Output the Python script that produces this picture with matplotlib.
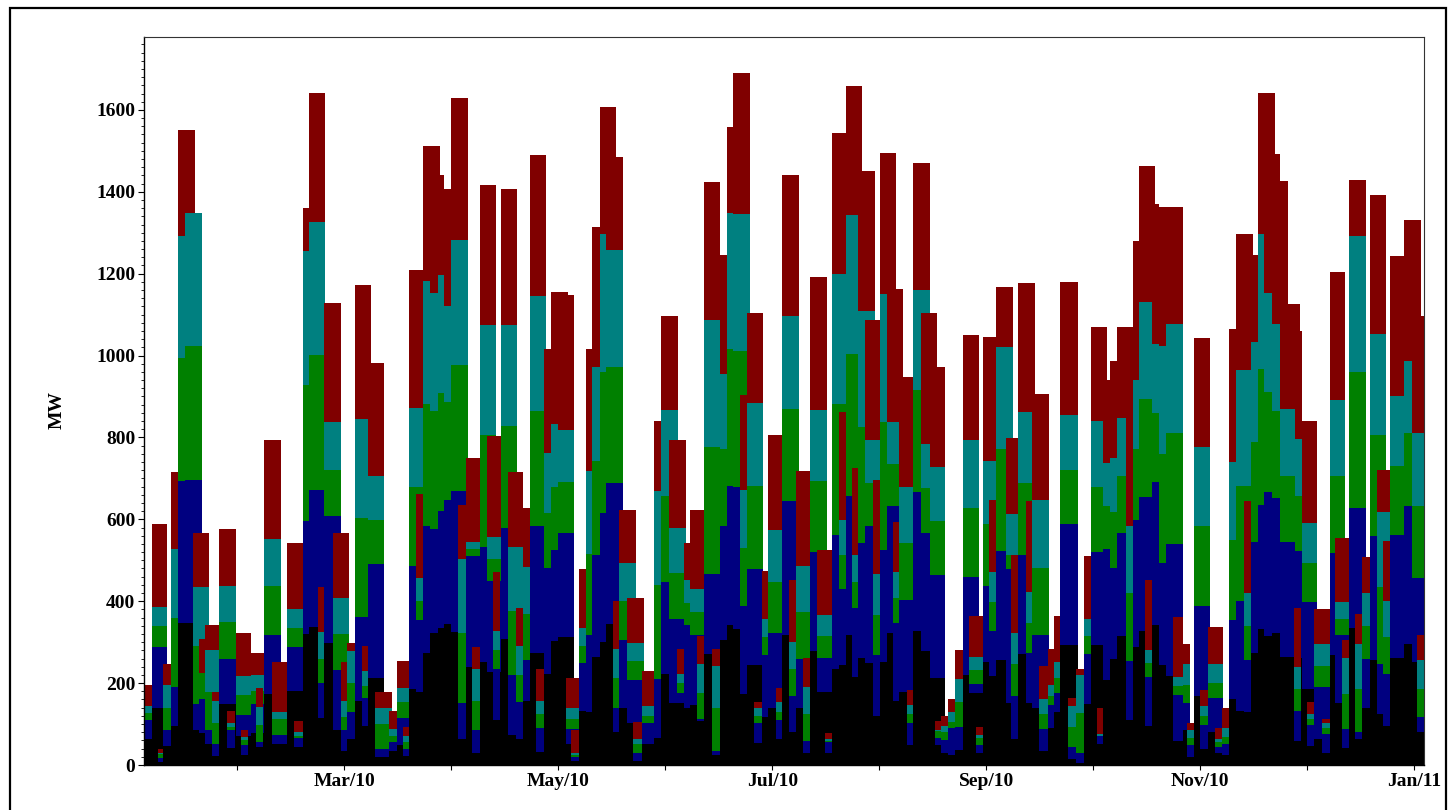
import numpy as np
import matplotlib
matplotlib.use("Agg")
import matplotlib.pyplot as plt
from matplotlib.patches import Rectangle
from matplotlib.ticker import MultipleLocator

# Each bar covers a period (days since 6 Jan 2010); bars are drawn in list order
# and later bars overlap earlier ones. Values are cumulative MW tops per layer.
period_start = [
    0.0, 2.1, 4.0, 5.4, 7.5, 9.6, 11.5, 13.9, 15.6, 17.2,
    19.1, 21.2, 23.4, 25.9, 27.4, 30.2, 31.6, 34.1, 36.2, 40.4,
    42.6, 44.9, 46.8, 49.2, 51.1, 53.5, 55.8, 57.4, 59.8, 61.7,
    63.4, 65.5, 69.5, 71.6, 73.5, 75.2, 77.0, 79.2, 81.1, 83.4,
    85.0, 87.0, 88.9, 91.2, 92.9, 95.3, 97.2, 99.0, 101.1, 103.3,
    105.4, 107.5, 109.3, 111.2, 113.5, 115.4, 117.5, 119.6, 121.1, 123.4,
    125.3, 127.1, 129.3, 131.0, 132.9, 134.8, 136.9, 138.8, 141.1, 144.6,
    146.6, 148.9, 151.1, 153.0, 154.9, 156.8, 158.8, 161.0, 163.4, 165.3,
    167.1, 169.0, 170.9, 173.1, 175.4, 177.1, 179.2, 181.0, 182.9, 184.9,
    187.0, 188.9, 190.8, 193.0, 195.1, 197.1, 199.0, 200.7, 202.6, 204.5,
    206.7, 208.8, 210.8, 212.4, 214.2, 216.3, 218.0, 220.3, 222.8, 224.4,
    226.1, 228.0, 230.1, 232.2, 234.1, 236.0, 237.9, 239.8, 241.7, 244.4,
    245.9, 247.8, 250.1, 252.0, 254.0, 256.4, 258.1, 259.9, 262.2, 264.4,
    266.5, 268.7, 270.3, 272.1, 274.0, 276.1, 278.6, 280.5, 282.1, 284.0,
    285.9, 288.0, 290.0, 292.0, 294.6, 295.8, 297.7, 299.6, 301.9, 303.8,
    305.7, 307.8, 309.8, 312.1, 314.1, 316.0, 317.8, 319.9, 322.1, 326.5,
    326.2, 328.6, 329.8, 331.9, 334.1, 336.3, 337.9, 339.8, 341.9, 343.6,
    345.5, 347.8, 349.7, 351.6, 353.5, 357.5, 359.6, 361.1,
]
period_end = [
    2.1, 6.4, 5.4, 7.5, 9.6, 14.4, 16.5, 18.4, 17.2, 21.2,
    21.2, 25.9, 25.7, 30.2, 29.5, 34.4, 33.8, 38.7, 40.4, 44.9,
    44.9, 46.8, 51.3, 51.3, 55.8, 58.2, 57.9, 59.8, 64.2, 63.6,
    68.0, 70.2, 71.6, 75.2, 75.2, 79.2, 79.2, 81.1, 83.9, 85.0,
    87.0, 91.8, 91.8, 95.3, 95.3, 99.7, 101.1, 100.9, 105.8, 107.5,
    107.5, 109.4, 114.0, 113.5, 115.6, 120.1, 122.0, 123.4, 123.4, 125.4,
    129.8, 129.5, 133.9, 135.8, 134.8, 139.6, 141.8, 141.1, 144.6, 146.8,
    151.4, 153.6, 153.2, 155.1, 158.8, 158.8, 163.4, 163.4, 165.3, 167.1,
    171.9, 170.9, 175.6, 175.4, 177.3, 181.3, 181.3, 185.8, 185.1, 188.9,
    188.9, 193.6, 195.1, 195.1, 199.0, 199.0, 203.6, 202.6, 207.4, 208.8,
    209.0, 213.3, 215.4, 214.4, 218.2, 218.2, 222.8, 224.8, 227.2, 227.2,
    228.2, 230.1, 232.2, 236.7, 238.1, 237.9, 242.3, 241.7, 246.4, 247.8,
    247.8, 252.6, 252.0, 256.7, 256.5, 258.4, 260.2, 264.8, 264.4, 266.5,
    268.7, 273.1, 272.1, 274.2, 276.1, 278.6, 280.5, 282.1, 286.8, 285.9,
    288.0, 290.0, 294.6, 294.6, 296.7, 297.7, 302.4, 301.9, 306.2, 305.7,
    307.8, 310.0, 314.5, 314.1, 316.0, 320.7, 322.3, 324.6, 327.9, 328.6,
    328.1, 332.8, 331.9, 336.3, 336.3, 340.7, 341.9, 341.9, 346.6, 345.6,
    347.8, 352.3, 353.5, 353.5, 357.8, 362.2, 363.7, 363.7,
]
top_black = [
    63, 138, 8, 47, 95, 347, 347, 85, 78, 52,
    22, 150, 41, 70, 25, 78, 45, 174, 52, 181,
    45, 320, 337, 115, 297, 86, 35, 63, 157, 96,
    212, 20, 33, 48, 22, 185, 179, 273, 323, 334,
    345, 326, 63, 240, 30, 251, 227, 110, 307, 74,
    63, 157, 273, 32, 223, 302, 312, 52, 10, 132,
    129, 264, 301, 345, 80, 138, 102, 10, 52, 66,
    223, 151, 151, 140, 146, 108, 270, 25, 306, 342,
    331, 174, 245, 53, 118, 140, 63, 317, 80, 138,
    30, 279, 179, 30, 234, 245, 317, 216, 262, 249,
    120, 251, 323, 157, 179, 48, 328, 279, 212, 48,
    30, 25, 36, 221, 176, 30, 251, 218, 256, 151,
    63, 271, 151, 140, 35, 91, 129, 292, 15, 5,
    149, 292, 52, 207, 260, 315, 109, 288, 328, 96,
    342, 245, 218, 58, 85, 20, 168, 38, 80, 30,
    25, 160, 131, 129, 273, 331, 315, 323, 264, 262,
    58, 185, 46, 63, 30, 268, 151, 41, 334, 63,
    140, 257, 124, 96, 262, 295, 251, 80,
]
top_navy = [
    110, 287, 18, 85, 190, 693, 695, 148, 160, 85,
    52, 260, 85, 122, 50, 148, 57, 317, 74, 287,
    65, 596, 671, 201, 607, 232, 85, 129, 362, 163,
    491, 40, 55, 115, 40, 487, 354, 583, 577, 620,
    646, 669, 152, 511, 85, 533, 450, 234, 579, 220,
    154, 256, 583, 91, 481, 524, 566, 87, 20, 249,
    317, 514, 616, 688, 140, 306, 207, 30, 102, 209,
    448, 356, 177, 342, 317, 113, 467, 35, 583, 682,
    680, 389, 478, 103, 268, 323, 110, 644, 168, 260,
    58, 519, 262, 55, 561, 430, 658, 384, 541, 583,
    268, 524, 633, 347, 404, 102, 666, 566, 465, 67,
    60, 91, 94, 459, 198, 48, 436, 328, 522, 478,
    168, 513, 273, 317, 87, 146, 176, 588, 44, 30,
    271, 519, 72, 528, 481, 566, 253, 599, 655, 216,
    691, 494, 539, 171, 151, 48, 389, 98, 163, 45,
    52, 353, 400, 256, 544, 636, 666, 651, 544, 522,
    132, 397, 98, 190, 76, 517, 317, 87, 627, 80,
    260, 559, 246, 223, 561, 633, 456, 118,
]
top_green = [
    127, 339, 28, 139, 358, 994, 1023, 290, 224, 179,
    102, 349, 94, 170, 60, 180, 97, 436, 113, 334,
    72, 928, 1001, 260, 721, 321, 118, 201, 603, 193,
    599, 100, 72, 154, 55, 679, 400, 881, 865, 909,
    887, 978, 323, 527, 157, 806, 502, 281, 828, 375,
    220, 370, 865, 124, 616, 679, 690, 113, 25, 290,
    516, 743, 959, 972, 212, 400, 253, 52, 120, 439,
    657, 469, 201, 395, 373, 176, 776, 140, 771, 1016,
    1012, 530, 682, 120, 312, 448, 130, 870, 234, 373,
    124, 693, 315, 58, 881, 514, 1003, 448, 826, 688,
    367, 837, 734, 408, 541, 124, 915, 677, 596, 82,
    80, 105, 154, 627, 231, 65, 588, 398, 771, 514,
    246, 688, 347, 481, 124, 168, 212, 721, 94, 127,
    315, 679, 72, 633, 618, 707, 419, 771, 895, 248,
    859, 760, 810, 194, 196, 67, 583, 120, 201, 55,
    69, 550, 682, 339, 790, 968, 911, 865, 707, 658,
    185, 494, 112, 242, 90, 705, 356, 174, 959, 185,
    339, 806, 434, 312, 730, 810, 633, 185,
]
top_teal = [
    144, 387, 30, 195, 528, 1293, 1348, 435, 224, 280,
    157, 437, 102, 217, 68, 220, 142, 553, 129, 380,
    80, 1255, 1326, 325, 837, 409, 157, 279, 845, 229,
    707, 140, 88, 188, 70, 873, 456, 1182, 1152, 1197,
    1121, 1282, 502, 544, 234, 1075, 557, 328, 1075, 533,
    290, 483, 1145, 157, 762, 832, 817, 140, 30, 334,
    718, 972, 1296, 1257, 284, 494, 297, 63, 143, 668,
    867, 580, 223, 452, 430, 246, 1086, 242, 954, 1348,
    1346, 671, 885, 140, 356, 574, 154, 1097, 301, 485,
    190, 868, 367, 63, 1200, 599, 1344, 514, 1108, 793,
    467, 1150, 837, 472, 679, 146, 1160, 784, 727, 85,
    95, 129, 209, 793, 264, 73, 743, 472, 1020, 613,
    323, 861, 422, 647, 160, 196, 251, 854, 143, 220,
    356, 839, 76, 738, 751, 848, 583, 940, 1130, 281,
    1027, 1023, 1078, 216, 246, 85, 776, 143, 246, 63,
    91, 740, 964, 419, 1034, 1296, 1152, 1078, 870, 795,
    240, 592, 124, 295, 102, 892, 397, 262, 1291, 295,
    419, 1053, 618, 400, 901, 987, 810, 257,
]
top_red = [
    195, 588, 38, 247, 716, 1550, 1348, 567, 308, 343,
    179, 577, 133, 323, 85, 273, 189, 793, 251, 541,
    107, 1360, 1641, 434, 1128, 566, 251, 297, 1172, 290,
    981, 179, 133, 254, 94, 1210, 662, 1512, 1512, 1442,
    1407, 1628, 635, 751, 287, 1416, 804, 472, 1407, 716,
    384, 627, 1490, 234, 1017, 1155, 1149, 212, 85, 478,
    1016, 1315, 1606, 1486, 400, 622, 408, 105, 229, 839,
    1097, 793, 284, 541, 622, 315, 1423, 284, 1246, 1558,
    1691, 904, 1105, 154, 474, 806, 187, 1440, 453, 718,
    262, 1193, 524, 77, 1543, 862, 1658, 726, 1451, 1088,
    697, 1495, 1163, 594, 948, 183, 1470, 1105, 972, 107,
    120, 160, 281, 1050, 364, 94, 1045, 646, 1167, 798,
    513, 1177, 644, 907, 242, 284, 364, 1180, 163, 234,
    511, 1069, 140, 940, 987, 1069, 1069, 1280, 1462, 452,
    1370, 1363, 1363, 362, 295, 102, 1042, 182, 337, 91,
    140, 1066, 1296, 644, 1246, 1641, 1492, 1426, 1125, 1061,
    384, 839, 154, 382, 113, 1204, 555, 306, 1429, 370,
    508, 1393, 721, 547, 1243, 1332, 1097, 317,
]

month_labels = ["", "Mar/10", "", "May/10", "", "Jul/10",
                "", "Sep/10", "", "Nov/10", "", "Jan/11"]
first_month = 26.4     # 1 Feb 2010, in days since 6 Jan 2010
month_len = 30.36

layer_colors = ["#000000", "#000080", "#008000", "#008080", "#800000"]

plt.rcParams["font.family"] = ["Liberation Serif", "DejaVu Serif"]
plt.rcParams["font.weight"] = "bold"

W, H = 1452, 810
fig = plt.figure(figsize=(W / 100, H / 100), dpi=100)
ax = fig.add_axes([144.3 / W, 45 / H, 1279.7 / W, 728 / H])

start = np.array(period_start, float)
width = np.array(period_end, float) - start
prev = np.zeros(len(start))
for tops, col in zip([top_black, top_navy, top_green, top_teal, top_red], layer_colors):
    tops = np.array(tops, float)
    bars = ax.bar(start, tops - prev, width=width, bottom=prev, align="edge",
                  color=col, linewidth=0, antialiased=False)
    # keep the drawing order bar by bar, so later bars overlap earlier ones
    for i, p in enumerate(bars.patches):
        p.set_zorder(1 + i * 1e-3)
    prev = tops

ax.set_xlim(0, 363.1)
ax.set_ylim(0, 1778)

ax.set_yticks(np.arange(0, 1601, 200))
ax.yaxis.set_minor_locator(MultipleLocator(20))
ax.set_xticks(first_month + month_len * np.arange(len(month_labels)))
ax.set_xticklabels(month_labels)

ax.tick_params(axis="y", which="major", direction="out", length=4.5, width=0.8,
               labelsize=14, pad=2)
ax.tick_params(axis="y", which="minor", direction="out", length=2.2, width=0.6)
ax.tick_params(axis="x", which="major", direction="out", length=3.5, width=0.8,
               labelsize=14, pad=2)
for lab in ax.get_xticklabels() + ax.get_yticklabels():
    lab.set_fontweight("bold")

for side in ["left", "bottom"]:
    ax.spines[side].set_linewidth(1.0)
    ax.spines[side].set_color("black")
for side in ["top", "right"]:
    ax.spines[side].set_linewidth(0.8)
    ax.spines[side].set_color("#333333")
for sp in ax.spines.values():
    sp.set_zorder(5)

fig.text(57 / W, 1 - 410 / H, "MW", rotation=90, ha="center", va="center",
         fontsize=14, fontweight="bold")

# outer frame round the whole picture
fig.patches.append(Rectangle((10 / W, -4 / H), 1436 / W, 806 / H,
                             transform=fig.transFigure, fill=False,
                             edgecolor="black", linewidth=1.6))

fig.savefig("out.png", dpi=100)
